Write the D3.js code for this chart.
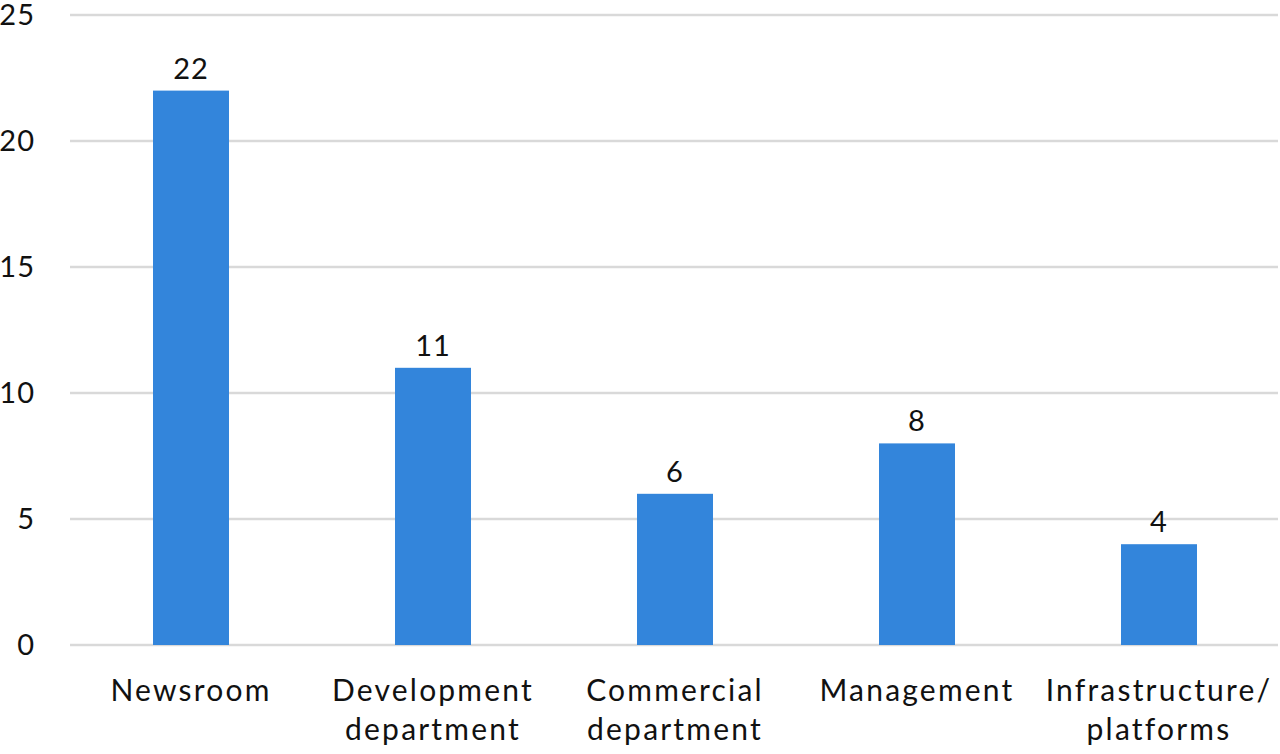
<!DOCTYPE html>
<html>
<head>
<meta charset="utf-8">
<script src="https://cdn.jsdelivr.net/npm/d3@7"></script>
<style>
  body { margin: 0; background: #fff; }
  svg text { font-family: Lato, "Noto Sans", sans-serif; fill: #111; }
  .grid line { stroke: #d9d9d9; stroke-width: 2.5; }
</style>
</head>
<body>
<div id="chart"></div>
<script>
var categories = [["Newsroom"], ["Development", "department"], ["Commercial", "department"], ["Management"], ["Infrastructure/", "platforms"]];
var values = [22, 11, 6, 8, 4];
var yTicks = [0, 5, 10, 15, 20, 25];

var width = 1280, height = 754;
var margin = { left: 70, right: 1280, top: 15, bottom: 645 };

var svg = d3.select("#chart").append("svg")
    .attr("width", width)
    .attr("height", height);

var x = d3.scaleBand()
    .domain(d3.range(categories.length))
    .range([margin.left, margin.right])
    .paddingInner(0.686)
    .paddingOuter(0.343);

var y = d3.scaleLinear().domain([0, 25]).range([margin.bottom, margin.top]);

// gridlines
svg.append("g").attr("class", "grid")
  .selectAll("line")
  .data(yTicks)
  .enter().append("line")
    .attr("x1", margin.left)
    .attr("x2", 1278)
    .attr("y1", function(d){ return y(d); })
    .attr("y2", function(d){ return y(d); });

// y tick labels
svg.append("g")
  .selectAll("text")
  .data(yTicks)
  .enter().append("text")
    .attr("x", 35)
    .attr("y", function(d){ return y(d); })
    .attr("dy", "0.36em")
    .attr("text-anchor", "end")
    .style("font-size", "29px")
    .style("letter-spacing", "1px")
    .text(function(d){ return d; });

// bars
svg.append("g")
  .selectAll("rect")
  .data(values)
  .enter().append("rect")
    .attr("x", function(d, i){ return x(i); })
    .attr("width", x.bandwidth())
    .attr("y", function(d){ return y(d); })
    .attr("height", function(d){ return y(0) - y(d); })
    .attr("fill", "#3385db");

// value labels
svg.append("g")
  .selectAll("text")
  .data(values)
  .enter().append("text")
    .attr("x", function(d, i){ return x(i) + x.bandwidth() / 2; })
    .attr("y", function(d){ return y(d) - 12; })
    .attr("text-anchor", "middle")
    .style("font-size", "29px")
    .style("letter-spacing", "1px")
    .text(function(d){ return d; });

// category labels
var cat = svg.append("g")
  .selectAll("text")
  .data(categories)
  .enter().append("text")
    .attr("text-anchor", "middle")
    .style("font-size", "30px")
    .style("letter-spacing", "2.2px")
    .attr("transform", function(d, i){ return "translate(" + (x(i) + x.bandwidth() / 2) + ",701)"; });

cat.selectAll("tspan")
  .data(function(d){ return d; })
  .enter().append("tspan")
    .attr("x", 0)
    .attr("y", function(d, i){ return i * 39; })
    .text(function(d){ return d; });
</script>
</body>
</html>
